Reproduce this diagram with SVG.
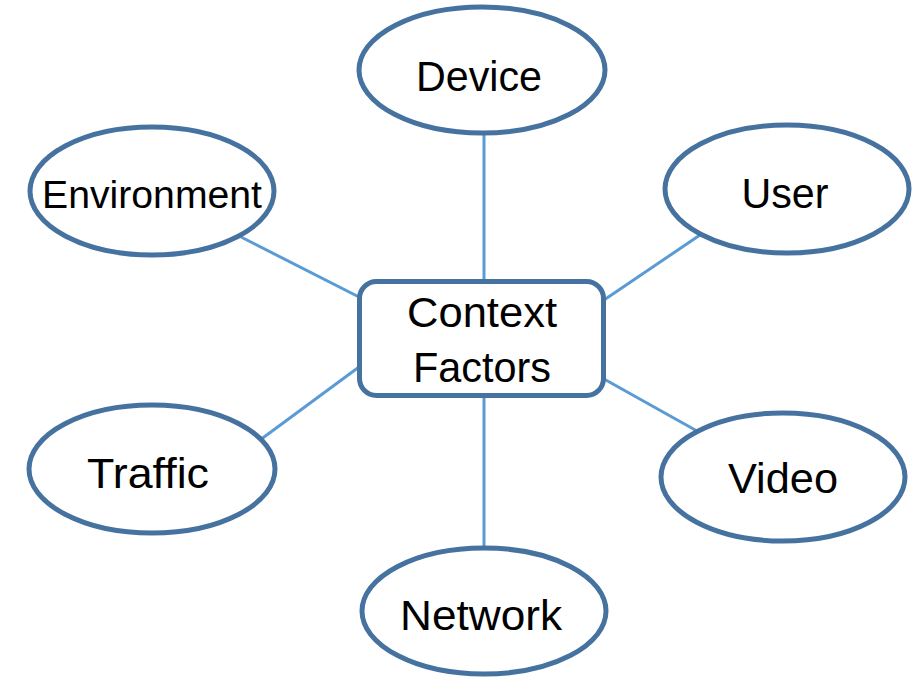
<svg xmlns="http://www.w3.org/2000/svg" width="917" height="678" viewBox="0 0 917 678">
<style>
.node{fill:#ffffff;stroke:#4672a0;stroke-width:5}
.edge{stroke:#5b9bd5;stroke-width:3;fill:none}
text{font-family:"Liberation Sans",Arial,sans-serif;font-size:42px;fill:#000;text-anchor:middle}
</style>
<rect width="917" height="678" fill="#ffffff"/>
<g id="connectors">
<line class="edge" x1="484" y1="135" x2="484" y2="281"/>
<line class="edge" x1="241" y1="237" x2="359" y2="297"/>
<line class="edge" x1="700" y1="235" x2="604" y2="300"/>
<line class="edge" x1="697" y1="431" x2="604" y2="379"/>
<line class="edge" x1="260" y1="440" x2="359" y2="367"/>
<line class="edge" x1="484" y1="396" x2="484" y2="547"/>
</g>
<g id="device">
<ellipse class="node" cx="482" cy="70" rx="123" ry="63"/>
<text x="479" y="91" textLength="126" lengthAdjust="spacingAndGlyphs">Device</text>
</g>
<g id="environment">
<ellipse class="node" cx="152" cy="191" rx="122" ry="64"/>
<text x="152" y="208" style="font-size:39px" textLength="220" lengthAdjust="spacingAndGlyphs">Environment</text>
</g>
<g id="user">
<ellipse class="node" cx="787" cy="189" rx="122" ry="64"/>
<text x="785" y="208" textLength="87" lengthAdjust="spacingAndGlyphs">User</text>
</g>
<g id="video">
<ellipse class="node" cx="783" cy="477" rx="122" ry="64"/>
<text x="783" y="493" textLength="110" lengthAdjust="spacingAndGlyphs">Video</text>
</g>
<g id="traffic">
<ellipse class="node" cx="152" cy="469" rx="123" ry="64"/>
<text x="148" y="488" textLength="122" lengthAdjust="spacingAndGlyphs">Traffic</text>
</g>
<g id="network">
<ellipse class="node" cx="484" cy="611" rx="122" ry="63"/>
<text x="481" y="630" textLength="162" lengthAdjust="spacingAndGlyphs">Network</text>
</g>
<g id="context">
<rect class="node" x="359.5" y="281.5" width="244" height="114" rx="17"/>
<text x="482" y="327" textLength="150" lengthAdjust="spacingAndGlyphs">Context</text>
<text x="482" y="382" textLength="138" lengthAdjust="spacingAndGlyphs">Factors</text>
</g>
</svg>
